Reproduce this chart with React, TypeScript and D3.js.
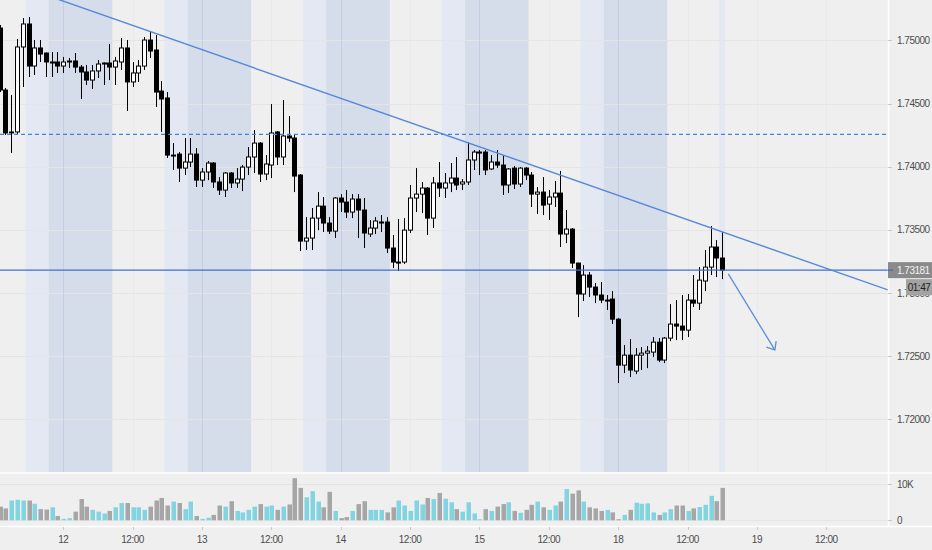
import React from 'react';
import * as d3 from 'd3';

// [open, high, low, close] – hourly candles, first one = 11th 13:00
const candles: [number, number, number, number][] = [
  [1.75098, 1.75122, 1.74591, 1.74607],
  [1.74607, 1.74623, 1.74251, 1.74267],
  [1.7427, 1.74568, 1.74108, 1.74275],
  [1.74275, 1.75011, 1.74251, 1.74948],
  [1.74948, 1.75177, 1.74631, 1.7513],
  [1.7513, 1.75185, 1.7471, 1.74797],
  [1.74797, 1.75003, 1.74726, 1.7494],
  [1.7494, 1.75003, 1.74829, 1.74892],
  [1.749, 1.74905, 1.7471, 1.74829],
  [1.74821, 1.74908, 1.7471, 1.74829],
  [1.74829, 1.74908, 1.74742, 1.74797],
  [1.74797, 1.74869, 1.74742, 1.74829],
  [1.74829, 1.74861, 1.74781, 1.74837],
  [1.74837, 1.749, 1.74742, 1.74789],
  [1.74789, 1.74805, 1.74536, 1.7475],
  [1.7475, 1.74805, 1.74647, 1.74686],
  [1.74686, 1.74805, 1.74615, 1.74758],
  [1.74758, 1.74845, 1.74702, 1.74813],
  [1.74813, 1.74825, 1.74647, 1.74821],
  [1.74821, 1.74972, 1.74686, 1.74789],
  [1.74789, 1.74869, 1.74647, 1.74837],
  [1.74829, 1.75019, 1.74766, 1.7494],
  [1.7494, 1.75003, 1.74441, 1.74671],
  [1.74671, 1.74829, 1.74631, 1.74742],
  [1.74742, 1.74845, 1.74671, 1.74797],
  [1.74797, 1.75027, 1.74766, 1.75003],
  [1.75003, 1.75067, 1.74861, 1.74916],
  [1.74924, 1.75043, 1.74473, 1.74591],
  [1.74599, 1.74678, 1.74275, 1.74536],
  [1.74544, 1.74591, 1.74069, 1.74092],
  [1.74085, 1.74187, 1.73974, 1.74092],
  [1.741, 1.74116, 1.73879, 1.73989],
  [1.73989, 1.74227, 1.73934, 1.74037],
  [1.74037, 1.74227, 1.73997, 1.741],
  [1.741, 1.74148, 1.73839, 1.73894],
  [1.73894, 1.73989, 1.73839, 1.73958],
  [1.73958, 1.74045, 1.73894, 1.74029],
  [1.74029, 1.74037, 1.73831, 1.73879],
  [1.73879, 1.73918, 1.73776, 1.73815],
  [1.73815, 1.73958, 1.7376, 1.7395],
  [1.7395, 1.73958, 1.73831, 1.73871],
  [1.73871, 1.73989, 1.73831, 1.73902],
  [1.73902, 1.74013, 1.73807, 1.73997],
  [1.73997, 1.74156, 1.73934, 1.74077],
  [1.74077, 1.7429, 1.7395, 1.74187],
  [1.74187, 1.74195, 1.73879, 1.73942],
  [1.73942, 1.74092, 1.73894, 1.74021],
  [1.74013, 1.74496, 1.7391, 1.74267],
  [1.74275, 1.74283, 1.74013, 1.74077],
  [1.74077, 1.74528, 1.74013, 1.74243],
  [1.74243, 1.74401, 1.74195, 1.74227],
  [1.74227, 1.74259, 1.73799, 1.73926],
  [1.73934, 1.73942, 1.73332, 1.73411],
  [1.73411, 1.73601, 1.7334, 1.73435],
  [1.73435, 1.73673, 1.7334, 1.73593],
  [1.73593, 1.73799, 1.73498, 1.73688],
  [1.73688, 1.7376, 1.73483, 1.73554],
  [1.73554, 1.73601, 1.73467, 1.7349],
  [1.7349, 1.7376, 1.73435, 1.73752],
  [1.73752, 1.73783, 1.73641, 1.7372],
  [1.7372, 1.73815, 1.73593, 1.73641],
  [1.73641, 1.73783, 1.73593, 1.73744],
  [1.73744, 1.73783, 1.73435, 1.73657],
  [1.73657, 1.73752, 1.73356, 1.73475],
  [1.73467, 1.73578, 1.73443, 1.73514],
  [1.73514, 1.73601, 1.73467, 1.7357],
  [1.73558, 1.73617, 1.73483, 1.73562],
  [1.73562, 1.73601, 1.73316, 1.73356],
  [1.73356, 1.73459, 1.73197, 1.73245],
  [1.73237, 1.73586, 1.73174, 1.73245],
  [1.73245, 1.73593, 1.7323, 1.73498],
  [1.73498, 1.73855, 1.73475, 1.73752],
  [1.73752, 1.73989, 1.73641, 1.73783],
  [1.73783, 1.73879, 1.73633, 1.73831],
  [1.73831, 1.73839, 1.73459, 1.73593],
  [1.73593, 1.73918, 1.73514, 1.73871],
  [1.73871, 1.74037, 1.7376, 1.73831],
  [1.73831, 1.7395, 1.73752, 1.73871],
  [1.73871, 1.74029, 1.73799, 1.7391],
  [1.7391, 1.74077, 1.73815, 1.73855],
  [1.73863, 1.73902, 1.73815, 1.73879],
  [1.73879, 1.74195, 1.73855, 1.74053],
  [1.74053, 1.74132, 1.73974, 1.74116],
  [1.74108, 1.74132, 1.73934, 1.74116],
  [1.74116, 1.74132, 1.73934, 1.73974],
  [1.73982, 1.74092, 1.73974, 1.74037],
  [1.74037, 1.74132, 1.73989, 1.74013],
  [1.74013, 1.74092, 1.73776, 1.73855],
  [1.73855, 1.73989, 1.73791, 1.73982],
  [1.73989, 1.74005, 1.73823, 1.73863],
  [1.73863, 1.73997, 1.73839, 1.73989],
  [1.73989, 1.73997, 1.73894, 1.73934],
  [1.73934, 1.73958, 1.73681, 1.73783],
  [1.73783, 1.73839, 1.73625, 1.73799],
  [1.73799, 1.73918, 1.73617, 1.73696],
  [1.73704, 1.73815, 1.73578, 1.7376],
  [1.7376, 1.73887, 1.73681, 1.73791],
  [1.73791, 1.73966, 1.73364, 1.73467],
  [1.73467, 1.73657, 1.73395, 1.73506],
  [1.73506, 1.73514, 1.73197, 1.73237],
  [1.73237, 1.7324, 1.72809, 1.72992],
  [1.72992, 1.73221, 1.72936, 1.73142],
  [1.73142, 1.73166, 1.72968, 1.73047],
  [1.73047, 1.73079, 1.7292, 1.72984],
  [1.72984, 1.73087, 1.7292, 1.72944],
  [1.7294, 1.72984, 1.72865, 1.72944],
  [1.72952, 1.73015, 1.72754, 1.72793],
  [1.72793, 1.728, 1.72287, 1.72429],
  [1.72429, 1.72588, 1.72366, 1.72508],
  [1.72508, 1.72635, 1.72334, 1.7239],
  [1.72382, 1.72564, 1.72358, 1.72508],
  [1.72508, 1.72572, 1.7239, 1.72524],
  [1.72524, 1.7258, 1.72405, 1.7254],
  [1.72532, 1.72651, 1.72493, 1.72611],
  [1.72611, 1.72643, 1.72453, 1.72469],
  [1.72469, 1.72651, 1.72445, 1.72643],
  [1.72643, 1.72912, 1.72619, 1.72754],
  [1.72754, 1.72944, 1.72627, 1.72738],
  [1.72738, 1.72984, 1.72627, 1.72706],
  [1.72706, 1.72992, 1.72651, 1.72944],
  [1.72944, 1.73142, 1.72889, 1.7292],
  [1.7292, 1.73205, 1.72865, 1.73102],
  [1.73095, 1.7334, 1.73015, 1.73205],
  [1.73205, 1.7353, 1.73142, 1.73364],
  [1.73364, 1.73419, 1.73126, 1.73277],
  [1.73277, 1.73483, 1.7311, 1.73181],
];

const volumes: number[] = [
  3800, 3300, 5500, 5700, 5500, 5500, 4600, 3100, 3000, 3600, 1200, 400, 600, 2400, 5900, 3800,
  2900, 2400, 1900, 2600, 3600, 4800, 4800, 3600, 3600, 2900, 3800, 5500, 6200, 4100, 5200, 4800,
  3100, 5200, 1200, 400, 700, 1500, 4100, 3800, 5300, 2600, 2200, 2900, 3800, 4500, 3800, 4100,
  2900, 3800, 4400, 11700, 9000, 6400, 8100, 5200, 3600, 7900, 2600, 600, 900, 2600, 4500, 5300,
  2900, 2900, 2900, 2200, 3600, 5500, 4100, 2600, 5500, 4400, 6200, 5900, 7600, 6000, 5000, 3100,
  2400, 5000, 1900, 300, 3100, 2600, 3800, 4500, 5000, 2600, 2100, 2900, 4300, 5200, 3600, 2900,
  4100, 5200, 8700, 7400, 8300, 5200, 3600, 3300, 2600, 2900, 2200, 300, 1500, 2900, 4900, 4600,
  4700, 2200, 1500, 2200, 3100, 4100, 4100, 2600, 3300, 3700, 4300, 6800, 5300, 9000,
];

const priceTicks = [1.72, 1.725, 1.73, 1.735, 1.74, 1.745, 1.75];
const volumeTicks = [0, 10000];
const volumeTickLabels = ['0', '10K'];
const timeLabels = ['12', '12:00', '13', '12:00', '14', '12:00', '15', '12:00', '18', '12:00', '19', '12:00'];
const timeLabelBars = [11, 23, 35, 47, 59, 71, 83, 95, 107, 119, 131, 143];
const dayStartBars = [11, 35, 59, 83, 107, 131];
const lastPrice = 1.73181;
const levelPrice = 1.74256;
const trendBars = [10.45, 153.7];
const trendPrices = [1.7532, 1.73024];
const arrowBars = [126.05, 134.1];
const arrowPrices = [1.73151, 1.72549];
const countdown = '01:47';

export default function App() {
  const W = 932;
  const H = 550;
  const axisX = 888;
  const mainBottom = 472;
  const step = 5.781;
  const n = candles.length;
  const x = d3.scaleLinear().domain([0, n - 1]).range([-0.4, -0.4 + (n - 1) * step]);
  const y = d3.scaleLinear().domain([1.72, 1.75]).range([419.3, 40.4]);
  const yv = d3.scaleLinear().domain([0, 10000]).range([520.3, 484.3]);
  const half = step / 2;
  const dataEnd = x(n - 1) + half;

  const font = "'Liberation Sans', Arial, sans-serif";
  const textColor = '#4d4d4d';
  const fs = 10;
  const ls = -0.5;

  // session bands
  const bands: { x0: number; x1: number; fill: string }[] = [];
  dayStartBars.forEach((d) => {
    const l0 = x(d - 6) - half;
    const l1 = x(d - 2) - half;
    const d1 = x(d + 9) - half;
    const clampR = (v: number) => Math.min(v, dataEnd);
    if (l0 < dataEnd) bands.push({ x0: l0, x1: clampR(l1), fill: '#e3e8f3' });
    if (l1 < dataEnd) bands.push({ x0: l1, x1: clampR(d1), fill: '#d6ddea' });
  });

  // trend line extended across pane
  const tx1 = x(trendBars[0]);
  const ty1 = y(trendPrices[0]);
  const tx2 = x(trendBars[1]);
  const ty2 = y(trendPrices[1]);
  const slope = (ty2 - ty1) / (tx2 - tx1);
  const trendPath = d3.line()([
    [-10, ty1 + slope * (-10 - tx1)],
    [axisX, ty1 + slope * (axisX - tx1)],
  ]) as string;

  // arrow
  const ax1 = x(arrowBars[0]);
  const ay1 = y(arrowPrices[0]);
  const ax2 = x(arrowBars[1]);
  const ay2 = y(arrowPrices[1]);
  const ang = Math.atan2(ay1 - ay2, ax1 - ax2);
  const headLen = 9;
  const headA = (40 * Math.PI) / 180;
  const arm1: [number, number] = [ax2 + headLen * Math.cos(ang + headA), ay2 + headLen * Math.sin(ang + headA)];
  const arm2: [number, number] = [ax2 + headLen * Math.cos(ang - headA), ay2 + headLen * Math.sin(ang - headA)];

  return (
    <svg
      width={W}
      height={H}
      style={{ position: 'absolute', left: 0, top: 0, display: 'block' }}
      fontFamily={font}
    >
      <defs>
        <clipPath id="mainClip">
          <rect x={0} y={0} width={axisX} height={mainBottom} />
        </clipPath>
      </defs>
      <rect x={0} y={0} width={W} height={H} fill="#efefef" />

      <g clipPath="url(#mainClip)">
        {bands.map((b, i) => (
          <rect key={'b' + i} x={b.x0} y={0} width={b.x1 - b.x0} height={mainBottom} fill={b.fill} />
        ))}
        {priceTicks.map((p) => (
          <line key={'g' + p} x1={0} x2={axisX} y1={Math.round(y(p)) + 0.5} y2={Math.round(y(p)) + 0.5} stroke="#e5e5e5" />
        ))}
        {timeLabelBars.map((b, i) => (
          <line key={'vg' + i} x1={Math.round(x(b)) + 0.5} x2={Math.round(x(b)) + 0.5} y1={0} y2={mainBottom} stroke="#e9e9e9" />
        ))}
        {dayStartBars
          .filter((d) => x(d) < dataEnd)
          .map((d) => (
            <line key={'dl' + d} x1={Math.round(x(d)) + 0.5} x2={Math.round(x(d)) + 0.5} y1={0} y2={mainBottom} stroke="#c3cfe6" />
          ))}

        {/* candles */}
        {candles.map(([o, h, l, c], i) => {
          const cx = Math.round(x(i));
          const yo = y(o);
          const yc = y(c);
          const up = c >= o;
          const top = Math.min(yo, yc);
          const hgt = Math.max(Math.abs(yo - yc), 1);
          return (
            <g key={'c' + i}>
              <line x1={cx + 0.5} x2={cx + 0.5} y1={y(h)} y2={y(l)} stroke="#000" strokeWidth={1} />
              <rect
                x={cx - 1.5}
                y={top}
                width={4}
                height={hgt}
                fill={up ? '#ffffff' : '#000000'}
                stroke="#000"
                strokeWidth={1}
              />
            </g>
          );
        })}

        {/* horizontal levels */}
        <line x1={0} x2={axisX} y1={y(levelPrice)} y2={y(levelPrice)} stroke="#4a80dc" strokeWidth={1.3} strokeDasharray="4 3" />
        <line x1={0} x2={axisX} y1={y(lastPrice)} y2={y(lastPrice)} stroke="#3e70cc" strokeWidth={1.4} />
        <path d={trendPath} stroke="#5588d8" strokeWidth={1.4} fill="none" />
        <line x1={ax1} y1={ay1} x2={ax2} y2={ay2} stroke="#5a8ddc" strokeWidth={1.3} />
        <polyline
          points={`${arm1[0]},${arm1[1]} ${ax2},${ay2} ${arm2[0]},${arm2[1]}`}
          stroke="#5a8ddc"
          strokeWidth={1.3}
          fill="none"
        />
      </g>

      {/* volume pane */}
      {volumeTicks.map((v) => (
        <line key={'vt' + v} x1={0} x2={axisX} y1={Math.round(yv(v)) + 0.5} y2={Math.round(yv(v)) + 0.5} stroke="#e5e5e5" />
      ))}
      {volumes.map((v, i) => {
        const [o, , , c] = candles[i];
        const cx = Math.round(x(i));
        return (
          <rect
            key={'v' + i}
            x={cx - 1.5}
            y={yv(v)}
            width={4.5}
            height={yv(0) - yv(v)}
            fill={c >= o ? '#82d5e0' : '#a6a6a6'}
          />
        );
      })}

      {/* separators */}
      <line x1={0} x2={W} y1={473} y2={473} stroke="#ffffff" strokeWidth={1.5} />
      <line x1={0} x2={W} y1={526.5} y2={526.5} stroke="#ffffff" strokeWidth={1.5} />
      <line x1={axisX + 0.5} x2={axisX + 0.5} y1={0} y2={526.5} stroke="#ffffff" strokeWidth={1.5} />

      {/* price axis */}
      {priceTicks.map((p) => (
        <g key={'pl' + p}>
          <line x1={axisX} x2={axisX + 4} y1={Math.round(y(p)) + 0.5} y2={Math.round(y(p)) + 0.5} stroke="#c8c8c8" />
          <text x={897} y={y(p)} dy="0.35em" fontSize={fs} letterSpacing={ls} fill={textColor}>
            {p.toFixed(5)}
          </text>
        </g>
      ))}
      {volumeTicks.map((v, i) => (
        <g key={'vl' + v}>
          <line x1={axisX} x2={axisX + 4} y1={Math.round(yv(v)) + 0.5} y2={Math.round(yv(v)) + 0.5} stroke="#c8c8c8" />
          <text x={897} y={yv(v)} dy="0.35em" fontSize={fs} letterSpacing={ls} fill={textColor}>
            {volumeTickLabels[i]}
          </text>
        </g>
      ))}

      {/* last price label & countdown */}
      <rect x={axisX} y={y(lastPrice) - 8} width={W - axisX} height={16} fill="#8a8a8a" />
      <line x1={axisX} x2={axisX + 5} y1={y(lastPrice)} y2={y(lastPrice)} stroke="#3e70cc" strokeWidth={1.4} />
      <text x={897} y={y(lastPrice)} dy="0.35em" fontSize={fs} letterSpacing={ls} fill="#f4f4f4">
        {lastPrice.toFixed(5)}
      </text>
      <rect x={906} y={y(lastPrice) + 9} width={W - 906} height={16} fill="#a3a3a3" />
      <text x={919} y={y(lastPrice) + 17} dy="0.35em" fontSize={fs} letterSpacing={ls} fill="#222" textAnchor="middle">
        {countdown}
      </text>

      {/* time axis */}
      {timeLabelBars.map((b, i) => (
        <g key={'tl' + i}>
          <line x1={Math.round(x(b)) + 0.5} x2={Math.round(x(b)) + 0.5} y1={527} y2={530} stroke="#c8c8c8" />
          <text x={x(b)} y={539} dy="0.35em" fontSize={fs} letterSpacing={ls} fill={textColor} textAnchor="middle">
            {timeLabels[i]}
          </text>
        </g>
      ))}
    </svg>
  );
}
